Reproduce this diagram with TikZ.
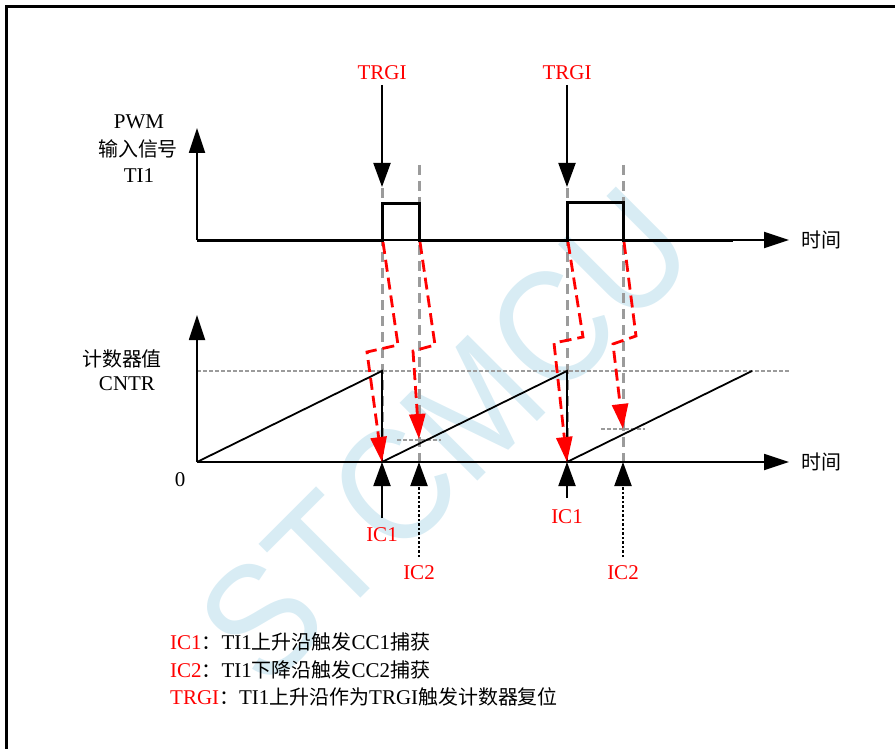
\documentclass[tikz,border=0pt]{standalone}
\usepackage{fontspec}
\setmainfont{Liberation Serif}
\newfontfamily\cjk[Scale=0.95]{Noto Sans CJK SC}
\newfontfamily\wmfont{Liberation Sans}
\usetikzlibrary{arrows.meta}
\definecolor{wmblue}{RGB}{216,236,244}
\definecolor{gline}{RGB}{155,155,155}
\newcommand\zh[1]{{\cjk #1}}
\begin{document}
\begin{tikzpicture}[x=1pt,y=-1pt,
  every node/.style={inner sep=0pt,font=\fontsize{21}{25}\selectfont},
  axis/.style={line width=1.8pt,-{Triangle[length=25pt,width=16pt]}},
  sig/.style={line width=3pt,line join=miter},
  saw/.style={line width=1.8pt,line join=miter},
  gdash/.style={gline,line width=3pt,dash pattern=on 10pt off 6pt},
  gdot/.style={gline,line width=2.5pt,dash pattern=on 4pt off 2pt},
  blkarrow/.style={line width=2pt,-{Triangle[length=24pt,width=17pt]}},
  dotarrow/.style={line width=2.2pt,dash pattern=on 2.5pt off 2pt,-{Triangle[length=24pt,width=17pt]}},
  redarrow/.style={red,line width=2.8pt,dash pattern=on 12pt off 6pt,-{Triangle[length=25pt,width=16pt]}},
  redtxt/.style={text=red},
  wm/.style={text=wmblue,font=\wmfont\fontsize{160}{160}\selectfont,rotate=45,xscale=0.9}
]
\useasboundingbox (0,0) rectangle (895,749);
% watermark
\node[wm] (wmark) at (445,436) {STCMCU};
% frame
\draw[line width=3pt] (6,749) -- (6,7) -- (895,7);

% coordinates
\coordinate (o1) at (197,240);
\coordinate (y1) at (197,128);
\coordinate (x1) at (789,240);
\coordinate (o2) at (197,462);
\coordinate (y2) at (197,315);
\coordinate (x2) at (789,462);

% gray guide lines (behind)
\draw[gdot] (197,371) -- (790,371);
\draw[gdot] (397,440) -- (441,440);
\draw[gdot] (601,429) -- (645,429);
\draw[gdash] (382,188) -- (382,462);
\draw[gdash] (419,165) -- (419,462);
\draw[gdash] (567,188) -- (567,462);
\draw[gdash] (623,165) -- (623,462);

% top axes
\draw[axis] (o1) -- (y1);
\draw[axis] (o1) -- (x1);
% PWM signal
\draw[sig] (o1) -- (382,240) -- (382,204) -- (419,204) -- (419,240) -- (567,240) -- (567,203) -- (623,203) -- (623,240) -- (733,240);

% bottom axes
\draw[axis] (o2) -- (y2);
\draw[axis] (o2) -- (x2);

% sawtooth
\draw[saw] (o2) -- (382,371) -- (382,462) -- (567,371) -- (567,462) -- (752,371);

% labels
\node (pwm) at (139,122) {PWM};
\node (pwm2) at (138,149) {\zh{输入信号}};
\node (ti1) at (139,176) {TI1};
\node (cnt) at (122,359) {\zh{计数器值}};
\node (cntr) at (127,384) {CNTR};
\node (zero) at (180,480) {0};
\node (t1) at (821,240) {\zh{时间}};
\node (t2) at (821,462) {\zh{时间}};

% TRGI
\node[redtxt] (trgi1) at (382,73) {TRGI};
\node[redtxt] (trgi2) at (567,73) {TRGI};
\coordinate (tr1s) at (382,85);
\coordinate (tr1e) at (382,187);
\coordinate (tr2s) at (567,85);
\coordinate (tr2e) at (567,187);
\draw[blkarrow] (tr1s) -- (tr1e);
\draw[blkarrow] (tr2s) -- (tr2e);

% red dashed arrows
\draw[redarrow] (383,242) -- (398,345) -- (367,352) -- (382,462);
\draw[redarrow] (420,242) -- (435,345) -- (413,351) -- (419,439);
\draw[redarrow] (568,242) -- (583,337) -- (554,343) -- (567,462);
\draw[redarrow] (624,242) -- (636,336) -- (613,344) -- (623,429);

% IC arrows
\coordinate (ic1a) at (382,518);
\coordinate (ic2a) at (419,557);
\coordinate (ic1b) at (567,498);
\coordinate (ic2b) at (623,557);
\coordinate (h1) at (382,462);
\coordinate (h2) at (419,462);
\coordinate (h3) at (567,462);
\coordinate (h4) at (623,462);
\draw[blkarrow] (ic1a) -- (h1);
\draw[dotarrow] (ic2a) -- (h2);
\draw[blkarrow] (ic1b) -- (h3);
\draw[dotarrow] (ic2b) -- (h4);
\node[redtxt] (lic1a) at (382,535) {IC1};
\node[redtxt] (lic2a) at (419,573) {IC2};
\node[redtxt] (lic1b) at (567,517) {IC1};
\node[redtxt] (lic2b) at (623,573) {IC2};

% legend
\node[anchor=west] (leg1) at (170,642) {{\color{red}IC1}\zh{：}TI1\zh{上升沿触发}CC1\zh{捕获}};
\node[anchor=west] (leg2) at (170,670) {{\color{red}IC2}\zh{：}TI1\zh{下降沿触发}CC2\zh{捕获}};
\node[anchor=west] (leg3) at (170,697) {{\color{red}TRGI}\zh{：}TI1\zh{上升沿作为}TRGI\zh{触发计数器复位}};
\end{tikzpicture}
\end{document}
